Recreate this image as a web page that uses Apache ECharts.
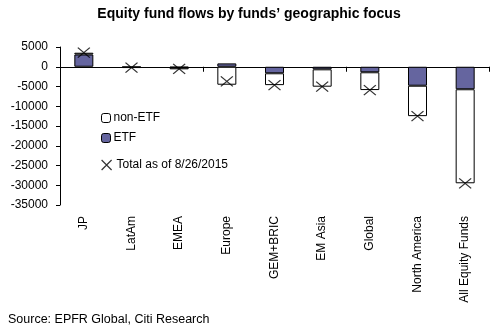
<!DOCTYPE html>
<html>
<head>
<meta charset="utf-8">
<script src="https://cdn.jsdelivr.net/npm/echarts@6/dist/echarts.min.js"></script>
<style>
  html, body { margin: 0; padding: 0; background: #fff; }
  #chart { width: 498px; height: 333px; }
</style>
</head>
<body>
<div id="chart"></div>
<script>
// Fund regions along the category axis
const regions = ['JP', 'LatAm', 'EMEA', 'Europe', 'GEM+BRIC', 'EM Asia', 'Global', 'North America', 'All Equity Funds'];
// Flows in USD mn, split by vehicle type
const etfFlows    = [3100, -100, -200,   850, -1650,  -650, -1400, -4800,  -5700];
const nonEtfFlows = [ 450, -200, -450, -4550, -3000, -4400, -4500, -7700, -23800];
// Cumulative total as of 8/26/2015
const totalFlows  = [3600, -250, -550, -3700, -4650, -5050, -5900, -12500, -29500];
// Value axis ticks
const yMin = -35000, yMax = 5000, yStep = 5000;

const FONT = '"Liberation Sans", Arial, sans-serif';
const PURPLE = '#65659f';
const crossPath = 'path://M0,0L10,10M10,0L0,10';

const chart = echarts.init(document.getElementById('chart'), null, { renderer: 'canvas' });

const legendBase = {
  orient: 'vertical',
  left: 101,
  itemWidth: 9,
  itemHeight: 9,
  itemGap: 0,
  textStyle: { fontFamily: FONT, fontSize: 12, color: '#000', padding: [0, 0, 0, -2] },
  selectedMode: false,
  padding: 0
};

chart.setOption({
  animation: false,
  title: {
    text: 'Equity fund flows by funds\u2019 geographic focus',
    left: 'center',
    top: 7,
    padding: 0,
    textStyle: { fontFamily: FONT, fontSize: 14, fontWeight: 'bold', color: '#000' }
  },
  legend: [
    Object.assign({}, legendBase, { top: 112, data: [{ name: 'non-ETF', itemStyle: { color: '#fff', borderColor: '#000', borderWidth: 1 } }] }),
    Object.assign({}, legendBase, { top: 132, data: [{ name: 'ETF', itemStyle: { color: PURPLE, borderColor: '#000', borderWidth: 1 } }] }),
    Object.assign({}, legendBase, {
      top: 159, itemWidth: 10, itemHeight: 10,
      textStyle: { fontFamily: FONT, fontSize: 12, color: '#000', padding: [0, 0, 0, 0] },
      data: [{ name: 'Total as of 8/26/2015', icon: crossPath, itemStyle: { color: 'transparent', borderColor: '#000', borderWidth: 1.2 } }]
    })
  ],
  graphic: [{
    type: 'text',
    left: 8,
    top: 313,
    style: { text: 'Source: EPFR Global, Citi Research', font: '12.5px ' + FONT, fill: '#000' }
  }],
  grid: { left: 60, right: 9, top: 47, bottom: 128, containLabel: false },
  xAxis: [
    {
      type: 'category',
      data: regions,
      position: 'bottom',
      axisLine: { onZero: true, lineStyle: { color: '#000', width: 1 } },
      axisTick: { show: true, length: 5, lineStyle: { color: '#000' } },
      axisLabel: { show: false }
    },
    {
      type: 'category',
      data: regions,
      position: 'bottom',
      axisLine: { show: false, onZero: false },
      axisTick: { show: false },
      axisLabel: {
        show: true,
        rotate: 90,
        margin: 11,
        interval: 0,
        fontFamily: FONT,
        fontSize: 12,
        color: '#000'
      }
    }
  ],
  yAxis: {
    type: 'value',
    min: yMin,
    max: yMax,
    interval: yStep,
    axisLine: { show: true, lineStyle: { color: '#000', width: 1 } },
    axisTick: { show: true, length: 4, lineStyle: { color: '#000' } },
    splitLine: { show: false },
    axisLabel: {
      fontFamily: FONT, fontSize: 12, color: '#000', margin: 12,
      formatter: v => String(v)
    }
  },
  series: [
    {
      name: 'ETF',
      type: 'bar',
      stack: 'flows',
      barWidth: 19,
      data: etfFlows,
      itemStyle: { color: PURPLE, borderColor: '#000', borderWidth: 1 }
    },
    {
      name: 'non-ETF',
      type: 'bar',
      stack: 'flows',
      barWidth: 19,
      data: nonEtfFlows,
      itemStyle: { color: '#fff', borderColor: '#000', borderWidth: 1 }
    },
    {
      name: 'Total as of 8/26/2015',
      type: 'scatter',
      data: totalFlows,
      symbol: crossPath,
      symbolSize: [12, 10],
      z: 5,
      itemStyle: { color: 'transparent', borderColor: '#000', borderWidth: 1.2 }
    }
  ]
});
</script>
</body>
</html>
